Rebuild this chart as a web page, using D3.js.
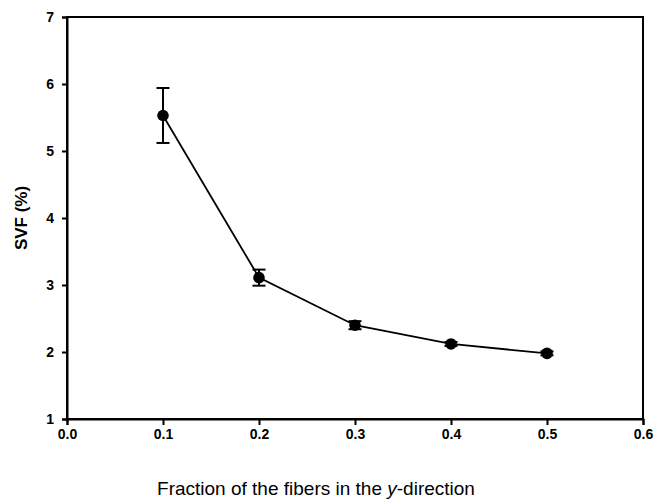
<!DOCTYPE html>
<html><head><meta charset="utf-8">
<script src="https://cdn.jsdelivr.net/npm/d3@7"></script>
<style>body{margin:0;background:#fff}</style>
</head><body>
<script>
const fractions = [0.1, 0.2, 0.3, 0.4, 0.5];
const svf = [5.53, 3.11, 2.40, 2.12, 1.98];
const svfErr = [0.41, 0.12, 0.06, 0.03, 0.03];
const xTicks = [0.0, 0.1, 0.2, 0.3, 0.4, 0.5, 0.6];
const yTicks = [1, 2, 3, 4, 5, 6, 7];

const W = 655, H = 500;
const m = {left: 67, right: 12, top: 17, bottom: 81};
const svg = d3.select("body").append("svg").attr("width", W).attr("height", H);
const x = d3.scaleLinear().domain([0, 0.6]).range([m.left, W - m.right]);
const y = d3.scaleLinear().domain([1, 7]).range([H - m.bottom, m.top]);

const font = "Liberation Sans, Arial, sans-serif";

// frame
svg.append("rect").attr("x", x(0)).attr("y", y(7)).attr("width", x(0.6) - x(0)).attr("height", y(1) - y(7))
  .attr("fill", "none").attr("stroke", "#000").attr("stroke-width", 2);

const xAxis = svg.append("g").attr("transform", `translate(0,${y(1)})`)
  .call(d3.axisBottom(x).tickValues(xTicks).tickFormat(d3.format(".1f")).tickSize(6).tickPadding(4));
const yAxis = svg.append("g").attr("transform", `translate(${x(0)},0)`)
  .call(d3.axisLeft(y).tickValues(yTicks).tickFormat(d3.format("d")).tickSize(5).tickPadding(8));
[xAxis, yAxis].forEach(g => {
  g.select(".domain").attr("stroke-width", 2);
  g.selectAll(".tick line").attr("stroke-width", 2);
  g.selectAll("text").attr("font-family", font).attr("font-size", 14).attr("font-weight", "bold").attr("fill", "#000");
});

const data = fractions.map((f, i) => ({f, v: svf[i], e: svfErr[i]}));

// line
svg.append("path").datum(data).attr("fill", "none").attr("stroke", "#000").attr("stroke-width", 1.8)
  .attr("d", d3.line().x(d => x(d.f)).y(d => y(d.v)));

// error bars
const eb = svg.append("g").attr("stroke", "#000").attr("stroke-width", 2);
data.forEach(d => {
  eb.append("line").attr("x1", x(d.f)).attr("x2", x(d.f)).attr("y1", y(d.v + d.e)).attr("y2", y(d.v - d.e));
  [d.v + d.e, d.v - d.e].forEach(v => eb.append("line")
    .attr("x1", x(d.f) - 6.5).attr("x2", x(d.f) + 6.5).attr("y1", y(v)).attr("y2", y(v)));
});

// markers
svg.selectAll("circle.pt").data(data).enter().append("circle")
  .attr("cx", d => x(d.f)).attr("cy", d => y(d.v)).attr("r", 5.8).attr("fill", "#000");

// titles
const xt = svg.append("text").attr("x", 316).attr("y", 495).attr("text-anchor", "middle")
  .attr("font-family", font).attr("font-size", 19).attr("fill", "#000");
xt.append("tspan").text("Fraction of the fibers in the ");
xt.append("tspan").attr("font-style", "italic").text("y");
xt.append("tspan").text("-direction");

svg.append("text").attr("transform", `translate(27,${(y(1) + y(7)) / 2}) rotate(-90)`)
  .attr("text-anchor", "middle").attr("font-family", font).attr("font-size", 17).attr("font-weight", "bold")
  .attr("fill", "#000").text("SVF (%)");
</script>
</body></html>
